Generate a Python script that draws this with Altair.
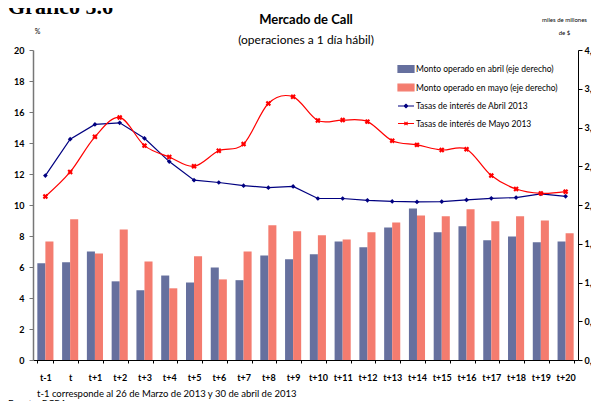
import altair as alt
import pandas as pd

cats = ["t-1", "t"] + [f"t+{i}" for i in range(1, 21)]
april_rate = [11.9, 14.25, 15.2, 15.3, 14.3, 12.8, 11.6, 11.45, 11.25, 11.12, 11.2,
              10.42, 10.42, 10.3, 10.23, 10.2, 10.22, 10.33, 10.43, 10.48, 10.72, 10.56]
may_rate = [10.55, 12.13, 14.4, 15.65, 13.83, 13.1, 12.5, 13.5, 13.93, 16.55, 16.98,
            15.45, 15.48, 15.38, 14.15, 13.88, 13.55, 13.6, 11.9, 11.03, 10.75, 10.86]
april_amt = [1.25, 1.26, 1.40, 1.015, 0.90, 1.09, 1.00, 1.195, 1.03, 1.35, 1.30,
             1.365, 1.53, 1.455, 1.71, 1.955, 1.65, 1.725, 1.545, 1.595, 1.52, 1.53]
may_amt = [1.53, 1.815, 1.375, 1.685, 1.27, 0.925, 1.34, 1.04, 1.40, 1.74, 1.66,
           1.61, 1.555, 1.65, 1.775, 1.865, 1.855, 1.945, 1.79, 1.855, 1.80, 1.635]

L_AB = "Monto operado en abril (eje derecho)"
L_MB = "Monto operado en mayo (eje derecho)"
L_AR = "Tasas de interés de Abril 2013"
L_MR = "Tasas de interés de Mayo 2013"
labels = [L_AB, L_MB, L_AR, L_MR]
colors = ["#66709E", "#F47C6F", "#000080", "#FF0000"]

FONT = "Lato"

bars_df = pd.DataFrame({
    "cat": cats * 2,
    "serie": [L_AB] * len(cats) + [L_MB] * len(cats),
    "valor": april_amt + may_amt,
})
rates_df = pd.DataFrame({
    "cat": cats * 2,
    "serie": [L_AR] * len(cats) + [L_MR] * len(cats),
    "valor": april_rate + may_rate,
})

xenc = alt.X("cat:N", sort=cats, title=None,
             scale=alt.Scale(paddingInner=0.35, paddingOuter=0.175),
             axis=alt.Axis(labelFont=FONT, labelFontWeight="bold", labelFontSize=9,
                           labelColor="#000", labelAngle=0, tickBand="extent",
                           tickSize=3, tickColor="#000", domainColor="#000",
                           labelPadding=10, labelFlush=False))

color_scale = alt.Scale(domain=labels, range=colors)

rect_path = "M-1,-0.42H1V0.42H-1Z"
diam_path = "M-1,0H1M-0.22,0L0,-0.22L0.22,0L0,0.22Z"
x_path = "M-1,0H1M-0.2,-0.2L0.2,0.2M-0.2,0.2L0.2,-0.2"
shape_expr = (f"datum.index < 2 ? '{rect_path}' : "
              f"(datum.index == 2 ? '{diam_path}' : '{x_path}')")
col_expr = "scale('color', datum.value)"

leg = alt.Legend(
    title=None, orient="none", legendX=364, legendY=10,
    labelFont=FONT, labelFontSize=8.5, labelColor="#000",
    symbolSize=256, symbolStrokeWidth=1.2, labelOffset=1,
    rowPadding=3.5, labelLimit=300,
    symbolType=alt.ExprRef(shape_expr),
    symbolFillColor=alt.ExprRef(col_expr),
    symbolStrokeColor=alt.ExprRef(col_expr),
    symbolOpacity=1,
)

color_enc = alt.Color("serie:N", scale=color_scale, legend=leg)

bars = alt.Chart(bars_df).mark_bar().encode(
    x=xenc,
    xOffset=alt.XOffset("serie:N", sort=[L_AB, L_MB],
                        scale=alt.Scale(paddingInner=0, paddingOuter=0)),
    y=alt.Y("valor:Q", title=["miles de millones", "de $"],
            scale=alt.Scale(domain=[0, 4], nice=False),
            axis=alt.Axis(orient="right", values=[0, 0.5, 1, 1.5, 2, 2.5, 3, 3.5, 4],
                          labelExpr="replace(format(datum.value, '.1f'), '.', ',')",
                          labelFont=FONT, labelFontWeight="bold", labelFontSize=9,
                          labelColor="#000", tickSize=4, tickColor="#000",
                          domainColor="#000", labelPadding=2, grid=False,
                          titleAngle=0, titleX=-14, titleY=-28, titleAlign="center",
                          titleFont=FONT, titleFontSize=6, titleFontWeight="normal",
                          titleColor="#000", titleLineHeight=13)),
    color=color_enc,
)

yleft = alt.Y("valor:Q", title="%", scale=alt.Scale(domain=[0, 20], nice=False),
              axis=alt.Axis(orient="left", values=list(range(0, 21, 2)),
                            labelFont=FONT, labelFontWeight="bold", labelFontSize=9,
                            labelColor="#000", tickSize=4, tickColor="#777",
                            domainColor="#777", domainWidth=1.5, labelPadding=5,
                            grid=False, titleAngle=0, titleX=4, titleY=-16,
                            titleAlign="center", titleFont=FONT, titleFontSize=7,
                            titleFontWeight="normal", titleColor="#000"))

line_a = alt.Chart(rates_df).transform_filter(alt.datum.serie == L_AR).mark_line(
    strokeWidth=1.2).encode(x=xenc, y=yleft, color=color_enc)
line_m = alt.Chart(rates_df).transform_filter(alt.datum.serie == L_MR).mark_line(
    strokeWidth=1.2, interpolate="cardinal").encode(x=xenc, y=yleft, color=color_enc)

pts_a = alt.Chart(rates_df).transform_filter(alt.datum.serie == L_AR).mark_point(
    shape="diamond", filled=True, size=22, color="#000080", opacity=1).encode(x=xenc, y=yleft)
pts_m = alt.Chart(rates_df).transform_filter(alt.datum.serie == L_MR).mark_point(
    shape="cross", angle=45, filled=True, size=30, color="#FF0000", opacity=1).encode(x=xenc, y=yleft)


def txt(s, x, y, size, weight="normal", align="left", font=FONT, baseline="middle"):
    return alt.Chart(pd.DataFrame({"t": [s]})).mark_text(
        align=align, baseline=baseline, fontSize=size, fontWeight=weight, font=font,
        color="#000").encode(text="t:N", x=alt.value(x), y=alt.value(y))


texts = [
    txt("Gráfico 5.6", -25, -36, 22, "bold", font="Liberation Serif", baseline="alphabetic"),
    txt("Mercado de Call", 273, -30, 13, "bold", align="center"),
    txt("(operaciones a 1 día hábil)", 273, -10, 12, align="center"),
    txt("t-1 corresponde al 26 de Marzo de 2013 y 30 de abril de 2013", 4, 344, 9.5),
    txt("Fuente: BCRA", -25, 354, 9.5),
]

rates_layer = alt.layer(line_a, line_m, pts_a, pts_m)
chart = alt.layer(bars, rates_layer, *texts).resolve_scale(
    y="independent", xOffset="independent"
).properties(
    width=545, height=310,
    padding={"left": 25, "top": 42, "right": 13, "bottom": 41},
    autosize=alt.AutoSizeParams(type="none"),
    background="white",
).configure_view(stroke=None)

chart.save("out.html", embed_options={"renderer": "svg", "actions": False})
